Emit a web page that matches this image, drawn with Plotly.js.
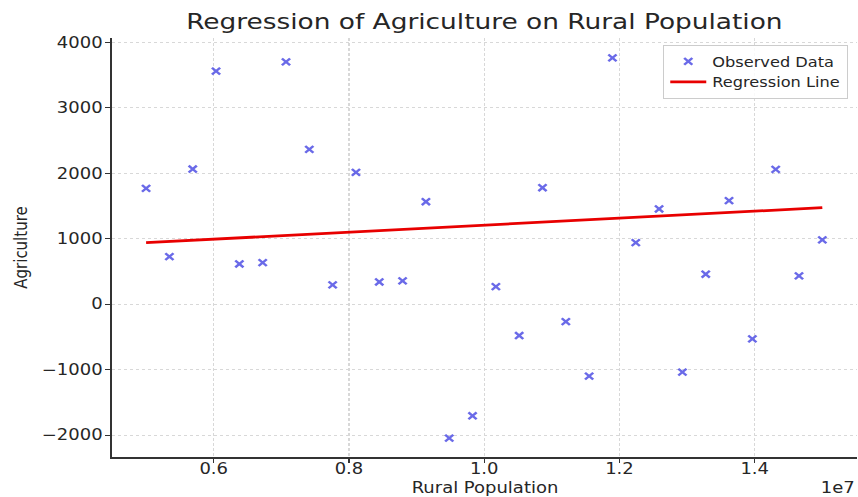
<!DOCTYPE html>
<html>
<head>
<meta charset="utf-8">
<script src="https://cdn.plot.ly/plotly-3.0.1.min.js"></script>
<style>
  html, body { margin: 0; padding: 0; background: #ffffff; overflow: hidden; }
  #wrap { width: 858px; height: 497px; overflow: hidden; }
  #chart { width: 715px; height: 497px; transform: scaleX(1.2); transform-origin: 0 0; }
</style>
</head>
<body>
<div id="wrap"><div id="chart"></div></div>
<script>
// Rural population (people) (axis shown in units of 1e7)
const ruralPopulation = [
  5000000, 5344828, 5689655, 6034483, 6379310, 6724138, 7068966, 7413793, 7758621, 8103448,
  8448276, 8793103, 9137931, 9482759, 9827586, 10172414, 10517241, 10862069, 11206897, 11551724,
  11896552, 12241379, 12586207, 12931034, 13275862, 13620690, 13965517, 14310345, 14655172, 15000000
];
// Agriculture values
const agriculture = [
  1771, 727, 2066, 3562, 615, 635, 3704, 2366, 295, 2015,
  340, 356, 1566, -2046, -1705, 269, -479, 1780, -266, -1100,
  3765, 940, 1455, -1038, 458, 1582, -530, 2061, 432, 982
];
// Regression line end points
const regressionX = [5000000, 15000000];
const regressionY = [940, 1475];

const xTickVals = [6000000, 8000000, 10000000, 12000000, 14000000];
const xTickText = ["0.6", "0.8", "1.0", "1.2", "1.4"];
const yTickVals = [-2000, -1000, 0, 1000, 2000, 3000, 4000];

const FONT = "DejaVu Sans, Verdana, sans-serif";

const traces = [
  {
    type: "scatter",
    mode: "markers",
    name: "Observed Data",
    x: ruralPopulation,
    y: agriculture,
    marker: {
      symbol: "x-thin",
      size: 6.8,
      color: "rgba(80,80,228,0.85)",
      line: { color: "rgba(80,80,228,0.85)", width: 2.2 }
    }
  },
  {
    type: "scatter",
    mode: "lines",
    name: "Regression Line",
    x: regressionX,
    y: regressionY,
    line: { color: "#e80000", width: 2.8 }
  }
];

const layout = {
  width: 715,
  height: 497,
  paper_bgcolor: "#ffffff",
  plot_bgcolor: "#ffffff",
  margin: { l: 93, r: 1, t: 38, b: 40 },
  font: { family: FONT, color: "#262626", size: 15 },
  title: {
    text: "Regression of Agriculture on Rural Population",
    font: { family: FONT, size: 22, color: "#262626" },
    x: 0.5645, xanchor: "center",
    xref: "container",
    y: 0.958, yanchor: "middle", yref: "container"
  },
  xaxis: {
    range: [4490000, 15510000],
    tickvals: xTickVals,
    ticktext: xTickText,
    ticks: "outside",
    ticklen: 4,
    tickwidth: 1,
    tickcolor: "#333333",
    ticklabelstandoff: -6,
    tickfont: { family: FONT, size: 15, color: "#262626" },
    showline: true,
    linecolor: "#333333",
    linewidth: 1.5,
    showgrid: true,
    gridcolor: "#d8d8d8",
    gridwidth: 1,
    griddash: "3px,2px",
    zeroline: false
  },
  yaxis: {
    range: [-2335, 4068],
    tickvals: yTickVals,
    ticks: "outside",
    ticklen: 4,
    tickwidth: 1,
    tickcolor: "#333333",
    ticklabelstandoff: -1,
    tickfont: { family: FONT, size: 15, color: "#262626" },
    showline: true,
    linecolor: "#333333",
    linewidth: 1.5,
    showgrid: true,
    gridcolor: "#d8d8d8",
    gridwidth: 1,
    griddash: "3px,2px",
    zeroline: false,
    title: { text: "Agriculture", font: { family: FONT, size: 15, color: "#262626" }, standoff: 8 }
  },
  showlegend: true,
  legend: {
    x: 0.988, xanchor: "right",
    y: 0.983, yanchor: "top",
    bgcolor: "rgba(255,255,255,0.85)",
    bordercolor: "#cccccc",
    borderwidth: 1,
    font: { family: FONT, size: 13.5, color: "#262626" },
    tracegroupgap: 0,
    itemwidth: 30
  },
  annotations: [
    {
      text: "Rural Population",
      xref: "paper", yref: "paper",
      x: 0.5, y: 0,
      xanchor: "center", yanchor: "middle",
      yshift: -31,
      showarrow: false,
      font: { family: FONT, size: 15, color: "#262626" }
    },
    {
      text: "1e7",
      xref: "paper", yref: "paper",
      x: 1, y: 0,
      xanchor: "right", yanchor: "middle",
      yshift: -31,
      showarrow: false,
      font: { family: FONT, size: 15, color: "#262626" }
    }
  ]
};

Plotly.newPlot("chart", traces, layout, { staticPlot: true, displayModeBar: false });
</script>
</body>
</html>
